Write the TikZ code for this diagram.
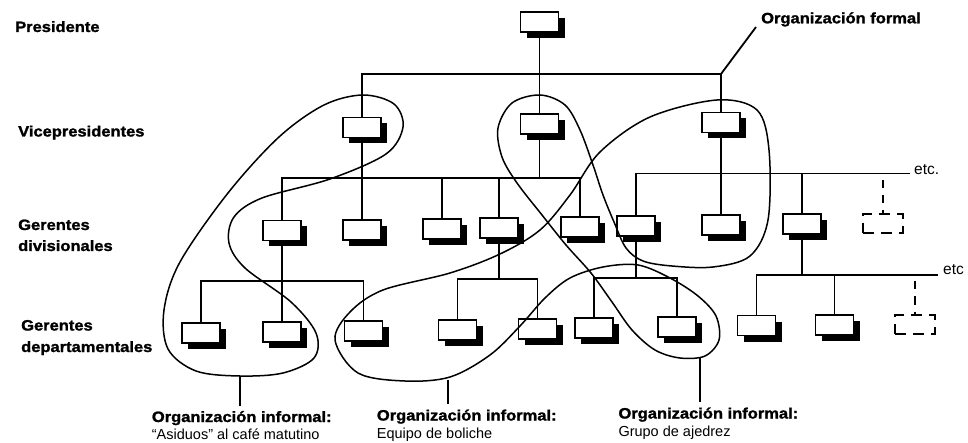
\documentclass[tikz,border=0pt]{standalone}
\usepackage{fontspec}
\setmainfont{Liberation Sans}
\newfontfamily\headfont[FakeStretch=1.1,FakeBold=1.5]{Liberation Sans Bold}
\newfontfamily\plainfont{Liberation Sans}
\usetikzlibrary{shadows}

\begin{document}
\begin{tikzpicture}[x=1pt,y=-1pt,
  post/.style={draw, line width=1.5pt, fill=white, minimum width=38pt,
    minimum height=20pt, inner sep=0pt,
    drop shadow={shadow xshift=6pt, shadow yshift=-6pt, fill=black, opacity=1}},
  ghostpost/.style={draw, line width=1.4pt, dash pattern=on 11pt off 7pt,
    minimum width=40pt, minimum height=19pt, inner sep=0pt},
  link/.style={line width=1.8pt},
  ghostlink/.style={line width=1.4pt, dash pattern=on 8pt off 7pt, dash phase=8.5pt},
  group/.style={line width=1.5pt},
  head/.style={inner sep=0pt, font=\headfont\fontsize{15}{17}\selectfont},
  plain/.style={inner sep=0pt, font=\plainfont\fontsize{14.5}{17}\selectfont},
]
\useasboundingbox (0,0) rectangle (968,443);
\fill[white] (0,0) rectangle (968,443);
\clip (0,0) rectangle (968,443);

% ---------- level names ----------
\node[head, anchor=base west] (nPres) at (15,32) {Presidente};
\node[head, anchor=base west] (nVice) at (18,136.5) {Vicepresidentes};
\node[head, anchor=base west] (nDivA) at (18,230) {Gerentes};
\node[head, anchor=base west] (nDivB) at (18,251) {divisionales};
\node[head, anchor=base west] (nDepA) at (21,330.5) {Gerentes};
\node[head, anchor=base west] (nDepB) at (21,352) {departamentales};

% ---------- bar levels ----------
\coordinate (barTop)  at (0,74);
\coordinate (barDivL) at (0,178);
\coordinate (barDivR) at (0,173.5);
\coordinate (barDepA) at (0,281);
\coordinate (barDepB) at (0,279.3);
\coordinate (barDepC) at (0,277.7);
\coordinate (barDepD) at (0,275);
\coordinate (etc1) at (910,173.5);
\coordinate (etc2) at (938,275);

% ---------- posts ----------
\node[post] (pres) at (539.5,22) {};

\node[post] (vp1) at (362,127.5) {};
\node[post] (vp2) at (539.5,124) {};
\node[post] (vp3) at (721,122.5) {};

\node[post] (d1) at (282,230.3) {};
\node[post] (d2) at (362,230) {};
\node[post] (d3) at (442,229) {};
\node[post] (d4) at (499,228) {};
\node[post] (d5) at (580,227) {};
\node[post] (d6) at (636,226) {};
\node[post] (d7) at (721,225) {};
\node[post] (d8) at (802,224) {};
\node[ghostpost] (dx) at (883,223.5) {};

\node[post] (p1) at (201,333) {};
\node[post] (p2) at (282,332) {};
\node[post] (p3) at (363.5,331) {};
\node[post] (p4) at (457.5,330) {};
\node[post] (p5) at (537.5,329) {};
\node[post] (p6) at (594,328) {};
\node[post] (p7) at (677,327) {};
\node[post] (p8) at (756.5,325.5) {};
\node[post] (p9) at (834.5,325) {};
\node[ghostpost] (px) at (915,324.5) {};

% ---------- formal lines ----------
\draw[link] (pres) -- (vp2);
\draw[link] (vp1) -- (vp1 |- barTop) -- (vp3 |- barTop) -- (vp3);

\draw[link] (vp1) -- (d2);
\draw[link] (d1) -- (d1 |- barDivL) -- (d5 |- barDivL) -- (d5);
\draw[link] (vp2) -- (vp2 |- barDivL);
\draw[link] (d3) -- (d3 |- barDivL);
\draw[link] (d4) -- (d4 |- barDivL);

\draw[link] (d6) -- (d6 |- barDivR) -- (etc1);
\draw[link] (vp3) -- (d7);
\draw[link] (d8) -- (d8 |- barDivR);
\draw[ghostlink] (dx |- barDivR) -- (dx);

\draw[link] (p1) -- (p1 |- barDepA) -- (p3 |- barDepA) -- (p3);
\draw[link] (d1) -- (p2);
\draw[link] (p4) -- (p4 |- barDepB) -- (p5 |- barDepB) -- (p5);
\draw[link] (d4) -- (d4 |- barDepB);
\draw[link] (p6) -- (p6 |- barDepC) -- (p7 |- barDepC) -- (p7);
\draw[link] (d6) -- (d6 |- barDepC);
\draw[link] (p8) -- (p8 |- barDepD) -- (etc2);
\draw[link] (d8) -- (d8 |- barDepD);
\draw[link] (p9) -- (p9 |- barDepD);
\draw[ghostlink] (px |- barDepD) -- (px);

\node[plain, anchor=base west, font=\plainfont\fontsize{15.5}{17}\selectfont] (etcA) at ([xshift=4pt,yshift=-1pt]etc1) {etc.};
\node[plain, anchor=base west, font=\plainfont\fontsize{15.5}{17}\selectfont] (etcB) at ([xshift=5pt]etc2) {etc};

% ---------- formal organisation label ----------
\node[head, anchor=base west] (formal) at (761,23.3) {Organización formal};
\coordinate (ftip) at (vp3 |- barTop);
\coordinate (fend) at (756,27);
\draw[link] (ftip) -- (fend);

% ---------- informal groups ----------
% morning coffee regulars
\draw[group] plot[smooth cycle, tension=0.55] coordinates {
  (363,95) (394,104) (403,127) (386,154) (330,179) (262,198) (234,217)
  (229,243) (245,268) (291,302) (316,333) (314,358) (283,373) (240,376)
  (196,371) (168,349) (164,310) (180,262) (228,193) (279,137) (324,105)};

% bowling team and chess group (one looping outline)
\draw[group] plot[smooth cycle, tension=0.55] coordinates {
  (335,340) (350,312) (383,290) (450,273) (500,254) (540,230) (570,195)
  (600,152) (650,117) (717,100) (757,110) (769,150) (768,220) (750,256)
  (713,267) (672,266) (643,261) (626,248) (614,222) (603,195) (593,165)
  (580,130) (565,105) (540,95) (512,103) (498,128) (502,157) (517,183)
  (542,215) (566,245) (591,273) (612,302) (632,330) (655,350) (680,358)
  (705,356) (719,340) (716,316) (698,296) (670,278) (638,265) (603,267)
  (570,278) (545,298) (520,326) (490,355) (450,377) (405,381) (358,373)};

% ---------- informal labels ----------
\node[head, anchor=base west]  (infA) at (151.7,422) {Organización informal:};
\node[plain, anchor=base west] (infA2) at (151.7,439) {“Asiduos” al café matutino};
\node[head, anchor=base west]  (infB) at (376.7,420.5) {Organización informal:};
\node[plain, anchor=base west] (infB2) at (376.7,438) {Equipo de boliche};
\node[head, anchor=base west]  (infC) at (618.3,418.5) {Organización informal:};
\node[plain, anchor=base west] (infC2) at (618.3,436.5) {Grupo de ajedrez};

\coordinate (tipA) at (240,376);
\coordinate (tipB) at (448,379.5);
\coordinate (tipC) at (700,357);
\draw[link, shorten >=5pt] (tipA) -- (tipA |- infA.north);
\draw[link, shorten >=5pt] (tipB) -- (tipB |- infB.north);
\draw[link, shorten >=5pt] (tipC) -- (tipC |- infC.north);
\end{tikzpicture}
\end{document}
